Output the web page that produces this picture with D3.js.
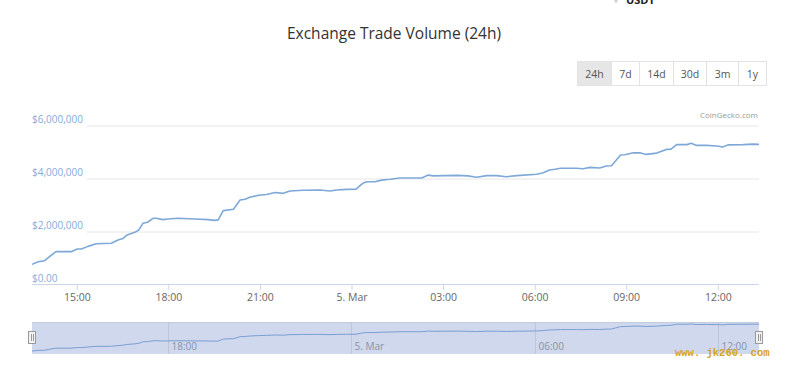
<!DOCTYPE html>
<html><head><meta charset="utf-8">
<script src="https://cdn.jsdelivr.net/npm/d3@7"></script>
<style>
html,body{margin:0;padding:0;background:#fff;}
svg{display:block;font-family:"Open Sans",sans-serif;}
</style></head>
<body><svg id="c" width="785" height="373"></svg>
<script>
// ---- data ----
const times = ["2020-03-04T13:32","2020-03-04T13:44","2020-03-04T13:57","2020-03-04T14:07","2020-03-04T14:19","2020-03-04T14:49","2020-03-04T15:01","2020-03-04T15:09","2020-03-04T15:22","2020-03-04T15:38","2020-03-04T16:08","2020-03-04T16:21","2020-03-04T16:31","2020-03-04T16:39","2020-03-04T16:54","2020-03-04T17:02","2020-03-04T17:10","2020-03-04T17:19","2020-03-04T17:30","2020-03-04T17:36","2020-03-04T17:49","2020-03-04T17:59","2020-03-04T18:19","2020-03-04T18:52","2020-03-04T19:18","2020-03-04T19:31","2020-03-04T19:38","2020-03-04T19:48","2020-03-04T20:08","2020-03-04T20:21","2020-03-04T20:31","2020-03-04T20:40","2020-03-04T20:57","2020-03-04T21:13","2020-03-04T21:30","2020-03-04T21:46","2020-03-04T21:59","2020-03-04T22:25","2020-03-04T22:58","2020-03-04T23:18","2020-03-04T23:31","2020-03-04T23:50","2020-03-05T00:09","2020-03-05T00:22","2020-03-05T00:30","2020-03-05T00:46","2020-03-05T00:59","2020-03-05T01:16","2020-03-05T01:35","2020-03-05T02:18","2020-03-05T02:31","2020-03-05T02:41","2020-03-05T03:27","2020-03-05T03:49","2020-03-05T04:06","2020-03-05T04:26","2020-03-05T04:45","2020-03-05T05:05","2020-03-05T05:25","2020-03-05T06:04","2020-03-05T06:17","2020-03-05T06:29","2020-03-05T06:40","2020-03-05T06:51","2020-03-05T07:22","2020-03-05T07:35","2020-03-05T07:49","2020-03-05T08:08","2020-03-05T08:21","2020-03-05T08:31","2020-03-05T08:49","2020-03-05T08:57","2020-03-05T09:14","2020-03-05T09:27","2020-03-05T09:39","2020-03-05T10:00","2020-03-05T10:19","2020-03-05T10:28","2020-03-05T10:39","2020-03-05T10:59","2020-03-05T11:08","2020-03-05T11:18","2020-03-05T11:38","2020-03-05T11:58","2020-03-05T12:10","2020-03-05T12:20","2020-03-05T12:50","2020-03-05T13:09","2020-03-05T13:21"];
const volumes = [740000,840000,880000,1040000,1220000,1220000,1320000,1320000,1420000,1520000,1540000,1660000,1720000,1850000,1950000,2040000,2290000,2330000,2480000,2480000,2430000,2450000,2480000,2450000,2430000,2400000,2420000,2770000,2820000,3170000,3200000,3270000,3350000,3380000,3450000,3420000,3510000,3540000,3550000,3510000,3550000,3570000,3580000,3800000,3860000,3860000,3920000,3950000,4000000,4000000,4110000,4080000,4100000,4080000,4030000,4090000,4090000,4050000,4090000,4140000,4200000,4300000,4330000,4370000,4370000,4350000,4400000,4380000,4450000,4460000,4870000,4880000,4950000,4950000,4890000,4940000,5080000,5090000,5260000,5260000,5310000,5230000,5230000,5210000,5170000,5250000,5260000,5280000,5270000];
const yTicks = [0, 2000000, 4000000, 6000000];
const yTickLabels = ["$0.00", "$2,000,000", "$4,000,000", "$6,000,000"];
const xTicks = ["2020-03-04T15:00","2020-03-04T18:00","2020-03-04T21:00","2020-03-05T00:00","2020-03-05T03:00","2020-03-05T06:00","2020-03-05T09:00","2020-03-05T12:00"];
const xTickLabels = ["15:00","18:00","21:00","5. Mar","03:00","06:00","09:00","12:00"];
const navTicks = ["2020-03-04T18:00","2020-03-05T00:00","2020-03-05T06:00","2020-03-05T12:00"];
const navTickLabels = ["18:00","5. Mar","06:00","12:00"];
const buttons = ["24h","7d","14d","30d","3m","1y"];

const parse = d3.utcParse("%Y-%m-%dT%H:%M");
const data = times.map((t,i)=>({t:parse(t), v:volumes[i]}));

const svg = d3.select("#c");
const L = 32, R = 759, T = 125, B = 284;

// partial legend text at top
svg.append("text").attr("x",626).attr("y",4).attr("font-size",11).attr("font-weight","bold")
  .attr("fill","#222").text("USDT");
svg.append("circle").attr("cx",616).attr("cy",1).attr("r",1.5).attr("fill","#ccc");

// title
svg.append("text").attr("x",394).attr("y",39).attr("text-anchor","middle")
  .attr("font-size",15.5).attr("fill","#333").text("Exchange Trade Volume (24h)");

// range buttons
const bx = [577.5,611.5,639.5,673.5,706.5,738.5,766.5];
const bg = svg.append("g");
buttons.forEach((b,i)=>{
  bg.append("rect").attr("x",bx[i]).attr("y",61.5).attr("width",bx[i+1]-bx[i]).attr("height",24)
    .attr("fill", i===0 ? "#e6e6e6" : "#fff").attr("stroke","#e3e3e3");
  bg.append("text").attr("x",(bx[i]+bx[i+1])/2).attr("y",77.5).attr("text-anchor","middle")
    .attr("font-size",10.5).attr("fill","#555").text(b);
});

// credit
svg.append("text").attr("x",758).attr("y",118).attr("text-anchor","end")
  .attr("font-size",8).attr("fill","#999").text("CoinGecko.com");

const x = d3.scaleUtc().domain(d3.extent(data,d=>d.t)).range([L,R]);
const y = d3.scaleLinear().domain([0,6000000]).range([B,T]);

// y grid + labels
const yg = svg.append("g").attr("transform",`translate(${L},0)`)
  .call(d3.axisRight(y).tickValues(yTicks).tickFormat((d,i)=>yTickLabels[i]).tickSize(0));
yg.select(".domain").remove();
yg.selectAll(".tick text").attr("x",0).attr("dy","-0.3em").attr("text-anchor","start")
  .attr("font-family","Open Sans").attr("font-size",10).attr("fill","#84acd8");
yg.selectAll(".tick").each(function(d){
  const g = d3.select(this);
  if (d === 0) return;
  const w = g.select("text").node().getComputedTextLength();
  g.insert("line","text").attr("x1",w+4).attr("x2",R-L).attr("y1",0.5).attr("y2",0.5)
    .attr("stroke","#e6e6e6");
});

// x axis
const xg = svg.append("g").attr("transform",`translate(0,${B})`)
  .call(d3.axisBottom(x).tickValues(xTicks.map(parse)).tickFormat((d,i)=>xTickLabels[i]).tickSize(6).tickSizeOuter(0));
xg.select(".domain").attr("stroke","#ccd6eb").attr("d",`M${L},0.5H${R}`);
xg.selectAll(".tick line").attr("stroke","#ccd6eb");
xg.selectAll(".tick text").attr("font-family","Open Sans").attr("font-size",10.5).attr("fill","#666").attr("y",10);

// line
const line = d3.line().x(d=>x(d.t)).y(d=>y(d.v));
svg.append("path").datum(data).attr("d",line).attr("fill","none")
  .attr("stroke","#7ea8d8").attr("stroke-width",1.6).attr("stroke-linejoin","round");

// navigator
const NT = 322, NB = 354;
svg.append("rect").attr("x",L).attr("y",NT).attr("width",R-L).attr("height",NB-NT)
  .attr("fill","#cfd8ec");
svg.append("line").attr("x1",L).attr("x2",R).attr("y1",NT+0.5).attr("y2",NT+0.5).attr("stroke","#c4cbdc");
const ny = d3.scaleLinear().domain(d3.extent(data,d=>d.v)).range([NB-3,NT+2]);
const ng = svg.append("g");
navTicks.forEach((t,i)=>{
  const xx = Math.round(x(parse(t)))+0.5;
  ng.append("line").attr("x1",xx).attr("x2",xx).attr("y1",NT).attr("y2",NB).attr("stroke","#bcc5da");
  ng.append("text").attr("x",xx+3).attr("y",NB-4).attr("font-size",10).attr("fill","#8a93a8").text(navTickLabels[i]);
});
svg.append("path").datum(data).attr("d",d3.line().x(d=>x(d.t)).y(d=>ny(d.v)))
  .attr("fill","none").attr("stroke","#7b9fd4").attr("stroke-width",1);
[L, R].forEach(hx=>{
  const h = svg.append("g").attr("transform",`translate(${Math.round(hx)},0)`);
  h.append("rect").attr("x",-3.5).attr("y",331.5).attr("width",7).attr("height",12)
    .attr("fill","#f2f2f2").attr("stroke","#999");
  h.append("line").attr("x1",-0.5).attr("x2",-0.5).attr("y1",334).attr("y2",341).attr("stroke","#999");
  h.append("line").attr("x1",1.5).attr("x2",1.5).attr("y1",334).attr("y2",341).attr("stroke","#999");
});

// watermark
svg.append("text").attr("x",675).attr("y",356).attr("font-family","Liberation Mono")
  .attr("font-weight","bold").attr("font-size",10.5).attr("fill","#d9a21c").text("www. jk260. com");
</script></body></html>
